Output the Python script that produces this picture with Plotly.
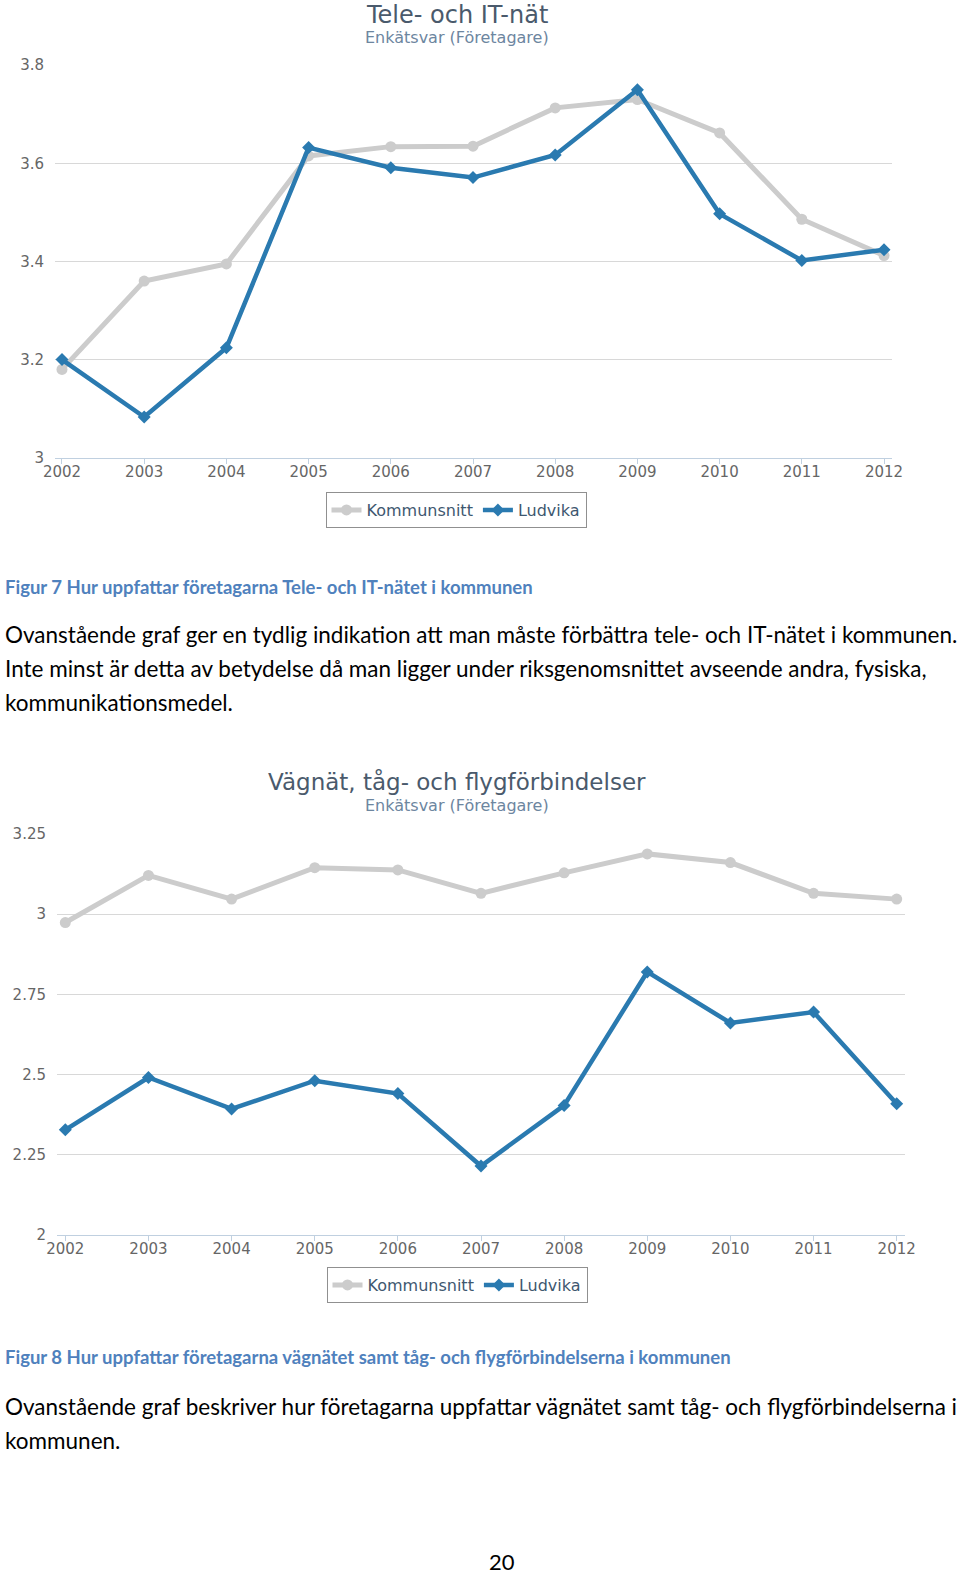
import plotly.graph_objects as go

years = [2002, 2003, 2004, 2005, 2006, 2007, 2008, 2009, 2010, 2011, 2012]

# Chart 1: Tele- och IT-nät
tele_kommunsnitt = [3.18, 3.36, 3.395, 3.615, 3.634, 3.635, 3.713, 3.73, 3.662, 3.486, 3.412]
tele_ludvika = [3.20, 3.083, 3.224, 3.632, 3.591, 3.571, 3.617, 3.75, 3.497, 3.402, 3.424]
tele_yticks = [3.0, 3.2, 3.4, 3.6, 3.8]
tele_yticktext = ["3", "3.2", "3.4", "3.6", "3.8"]

# Chart 2: Vägnät, tåg- och flygförbindelser
vag_kommunsnitt = [2.974, 3.121, 3.047, 3.145, 3.138, 3.065, 3.129, 3.188, 3.161, 3.065, 3.047]
vag_ludvika = [2.328, 2.491, 2.393, 2.481, 2.441, 2.215, 2.404, 2.82, 2.661, 2.695, 2.409]
vag_yticks = [2.0, 2.25, 2.5, 2.75, 3.0, 3.25]
vag_yticktext = ["2", "2.25", "2.5", "2.75", "3", "3.25"]

series_names = ["Kommunsnitt", "Ludvika"]
titles = ["Tele- och IT-nät", "Vägnät, tåg- och flygförbindelser"]
subtitle = "Enkätsvar (Företagare)"

caption7 = "Figur 7 Hur uppfattar företagarna Tele- och IT-nätet i kommunen"
para1 = [
    "Ovanstående graf ger en tydlig indikation att man måste förbättra tele- och IT-nätet i kommunen.",
    "Inte minst är detta av betydelse då man ligger under riksgenomsnittet avseende andra, fysiska,",
    "kommunikationsmedel.",
]
caption8 = "Figur 8 Hur uppfattar företagarna vägnätet samt tåg- och flygförbindelserna i kommunen"
para2 = [
    "Ovanstående graf beskriver hur företagarna uppfattar vägnätet samt tåg- och flygförbindelserna i",
    "kommunen.",
]
page_number = "20"

W, H = 960, 1574
GRAY = "#CCCCCC"
BLUE = "#2A7AB0"
CHART_FONT = "DejaVu Sans"
DOC_FONT = "Lato"


def py(p):
    return 1 - p / H


fig = go.Figure()

fig.add_trace(go.Scatter(x=years, y=tele_kommunsnitt, name=series_names[0], mode="lines+markers",
                         line=dict(color=GRAY, width=5), marker=dict(symbol="circle", size=11, color=GRAY),
                         xaxis="x", yaxis="y", legend="legend"))
fig.add_trace(go.Scatter(x=years, y=tele_ludvika, name=series_names[1], mode="lines+markers",
                         line=dict(color=BLUE, width=4.5), marker=dict(symbol="diamond", size=10, color=BLUE),
                         xaxis="x", yaxis="y", legend="legend"))
fig.add_trace(go.Scatter(x=years, y=vag_kommunsnitt, name=series_names[0], mode="lines+markers",
                         line=dict(color=GRAY, width=5), marker=dict(symbol="circle", size=11, color=GRAY),
                         xaxis="x2", yaxis="y2", legend="legend2"))
fig.add_trace(go.Scatter(x=years, y=vag_ludvika, name=series_names[1], mode="lines+markers",
                         line=dict(color=BLUE, width=4.5), marker=dict(symbol="diamond", size=10, color=BLUE),
                         xaxis="x2", yaxis="y2", legend="legend2"))

xaxis_common = dict(
    tickmode="array", tickvals=years, ticktext=[str(y) for y in years],
    showgrid=False, zeroline=False, showline=True, linecolor="#C0D0E0", linewidth=1,
    ticks="outside", ticklen=5, tickcolor="#C0D0E0", automargin=False, ticklabelstandoff=-5,
    tickfont=dict(family=CHART_FONT, size=15, color="#666666"), fixedrange=True,
)
yaxis_common = dict(
    showgrid=True, gridcolor="#D8D8D8", gridwidth=1, zeroline=False, showline=False,
    ticks="", ticklabelstandoff=10, automargin=False,
    tickfont=dict(family=CHART_FONT, size=15, color="#666666"), fixedrange=True,
)

legend_common = dict(
    orientation="h", xanchor="center", yanchor="middle",
    bordercolor="#909090", borderwidth=1, bgcolor="white",
    font=dict(family=CHART_FONT, size=16, color="#3E576F"),
    itemclick=False, itemdoubleclick=False, tracegroupgap=0,
)

annotations = []
for t, ty, sy, tsize in [(titles[0], 15, 38, 24), (titles[1], 781, 805, 23)]:
    annotations.append(dict(text=t, x=457 / W, y=py(ty), xref="paper", yref="paper",
                            xanchor="center", yanchor="middle", showarrow=False,
                            font=dict(family=CHART_FONT, size=tsize, color="#4A5A6C")))
    annotations.append(dict(text=subtitle, x=457 / W, y=py(sy), xref="paper", yref="paper",
                            xanchor="center", yanchor="middle", showarrow=False,
                            font=dict(family=CHART_FONT, size=16, color="#6D869F")))


def add_text(txt, ypix, size, color="#000000", bold=False):
    annotations.append(dict(text=f"<b>{txt}</b>" if bold else txt, x=3 / W, y=py(ypix),
                            xref="paper", yref="paper", xanchor="left", yanchor="middle",
                            showarrow=False, font=dict(family=DOC_FONT, size=size, color=color)))


add_text(caption7, 587, 18.5, "#4F81BD", bold=True)
for i, line in enumerate(para1):
    add_text(line, 635 + i * 34, 22.5)
add_text(caption8, 1357, 18.5, "#4F81BD", bold=True)
for i, line in enumerate(para2):
    add_text(line, 1406 + i * 34, 22.5)
annotations.append(dict(text=page_number, x=502 / W, y=py(1561), xref="paper", yref="paper",
                        xanchor="center", yanchor="middle", showarrow=False,
                        font=dict(family=DOC_FONT, size=22, color="#000000")))

fig.update_layout(
    template="none",
    width=W, height=H, margin=dict(l=0, r=0, t=0, b=0, autoexpand=False),
    paper_bgcolor="white", plot_bgcolor="white",
    showlegend=True,
    xaxis=dict(xaxis_common, domain=[55 / W, 892 / W], range=[2001.915, 2012.097], anchor="y"),
    yaxis=dict(yaxis_common, domain=[py(457.7), py(65.2)], range=[3.0, 3.8],
               tickmode="array", tickvals=tele_yticks, ticktext=tele_yticktext, anchor="x"),
    xaxis2=dict(xaxis_common, domain=[57 / W, 905 / W], range=[2001.90, 2012.10], anchor="y2"),
    yaxis2=dict(yaxis_common, domain=[py(1235), py(834)], range=[2.0, 3.25],
                tickmode="array", tickvals=vag_yticks, ticktext=vag_yticktext, anchor="x2"),
    legend=dict(legend_common, x=456 / W, y=py(510)),
    legend2=dict(legend_common, x=457 / W, y=py(1285)),
    annotations=annotations,
)

fig.write_html("out.html", config={"displayModeBar": False},
               post_script="document.body.style.margin='0px';")
